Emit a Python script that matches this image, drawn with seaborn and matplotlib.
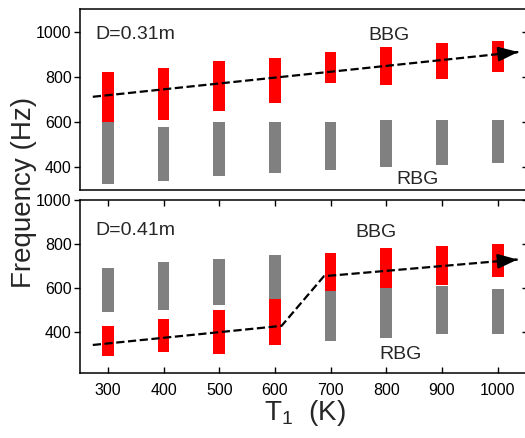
import numpy as np
import pandas as pd
import matplotlib
matplotlib.use("Agg")
import matplotlib.pyplot as plt
import seaborn as sns

# ---------------- data ----------------
temps = [300, 400, 500, 600, 700, 800, 900, 1000]

# D = 0.31 m
bbg_top_031 = [822, 840, 870, 885, 910, 930, 950, 960]
bbg_bot_031 = [600, 610, 650, 685, 772, 762, 792, 822]
rbg_top_031 = [600, 580, 600, 600, 600, 608, 608, 608]
rbg_bot_031 = [325, 340, 360, 375, 390, 400, 410, 420]
trend_T_031 = [273, 1037]
trend_f_031 = [712, 910]

# D = 0.41 m
bbg_top_041 = [425, 460, 500, 550, 760, 780, 790, 800]
bbg_bot_041 = [290, 310, 300, 340, 585, 600, 615, 648]
rbg_top_041 = [690, 720, 730, 750, 585, 600, 607, 593]
rbg_bot_041 = [490, 500, 520, 550, 360, 370, 390, 390]
trend_T_041 = [273, 612, 688, 1036]
trend_f_041 = [340, 427, 653, 729]

y_ticks = [400, 600, 800, 1000]
x_ticks = temps

# ---------------- style ----------------
sns.set_theme(style="ticks")
plt.rcParams["font.family"] = ["Liberation Sans", "DejaVu Sans"]
plt.rcParams["mathtext.fontset"] = "custom"
plt.rcParams["mathtext.rm"] = "Liberation Sans"
plt.rcParams["axes.linewidth"] = 1.1

RED = "#ff0000"
GRAY = "#808080"
BAR_W = 21

fig = plt.figure(figsize=(5.25, 4.38), dpi=100)
W, H = 525, 438
AX_W = 447.5
ax1 = fig.add_axes([80 / W, 1 - 190 / H, AX_W / W, 181 / H])
ax2 = fig.add_axes([80 / W, 1 - 373.3 / H, AX_W / W, 173.3 / H])


def draw_panel(ax, btop, bbot, rtop, rbot, lT, lf, ylim, label, bbg_pos, rbg_pos):
    df = pd.DataFrame({"T": temps, "btop": btop, "bbot": bbot,
                       "rtop": rtop, "rbot": rbot})
    ax.bar(df["T"], df["rtop"] - df["rbot"], bottom=df["rbot"], width=BAR_W,
           color=GRAY, edgecolor="none", zorder=2)
    ax.bar(df["T"], df["btop"] - df["bbot"], bottom=df["bbot"], width=BAR_W,
           color=RED, edgecolor="none", zorder=2)
    line = pd.DataFrame({"T": lT, "f": lf})
    sns.lineplot(data=line, x="T", y="f", sort=False, color="black",
                 linestyle="--", linewidth=1.6, ax=ax, zorder=3)
    slope = (lf[-1] - lf[-2]) / (lT[-1] - lT[-2])
    ax.annotate("", xy=(lT[-1], lf[-1]),
                xytext=(lT[-1] - 4, lf[-1] - 4 * slope),
                arrowprops=dict(arrowstyle="-|>,head_length=0.6,head_width=0.22",
                                color="black", lw=1.6, mutation_scale=20,
                                shrinkA=0, shrinkB=0), zorder=4)
    ax.set_xlim(250, 1050 + 2 * 800 / 445.5)
    ax.set_ylim(*ylim)
    ax.set_yticks(y_ticks)
    ax.set_xticks(x_ticks)
    ax.set_xlabel("")
    ax.set_ylabel("")
    for s in ax.spines.values():
        s.set_visible(True)
        s.set_color("black")
    ax.tick_params(axis="y", direction="out", length=4, width=1, labelsize=11.5,
                   pad=2, colors="black", left=True, right=False)
    tw = ax.twinx()
    tw.set_ylim(*ylim)
    tw.set_yticks(y_ticks)
    tw.tick_params(axis="y", direction="in", length=4, width=1, right=True,
                   labelright=False, colors="black")
    for s in tw.spines.values():
        s.set_visible(False)
    ax.text(278, label[1], label[0], fontsize=14, ha="left", va="center")
    ax.text(bbg_pos[0], bbg_pos[1], "BBG", fontsize=14, ha="center", va="center")
    ax.text(rbg_pos[0], rbg_pos[1], "RBG", fontsize=14, ha="center", va="center")


draw_panel(ax1, bbg_top_031, bbg_bot_031, rbg_top_031, rbg_bot_031,
           trend_T_031, trend_f_031, (300, 1100), ("D=0.31m", 988),
           (805, 982), (857, 348))
draw_panel(ax2, bbg_top_041, bbg_bot_041, rbg_top_041, rbg_bot_041,
           trend_T_041, trend_f_041, (211, 1000), ("D=0.41m", 862),
           (782, 850), (826, 295))

ax1.tick_params(axis="x", bottom=False, top=False, labelbottom=False)
ax2.tick_params(axis="x", direction="in", length=4, width=1, bottom=True,
                top=True, labelsize=11.5, pad=7, colors="black")

fig.text(305 / W, 1 - 413 / H, r"T$_{\mathrm{1}}$  (K)", fontsize=20,
         ha="center", va="center")
fig.text(24 / W, 1 - 192 / H, "Frequency (Hz)", fontsize=20, ha="center",
         va="center", rotation=90)

fig.savefig("out.png", dpi=100)
